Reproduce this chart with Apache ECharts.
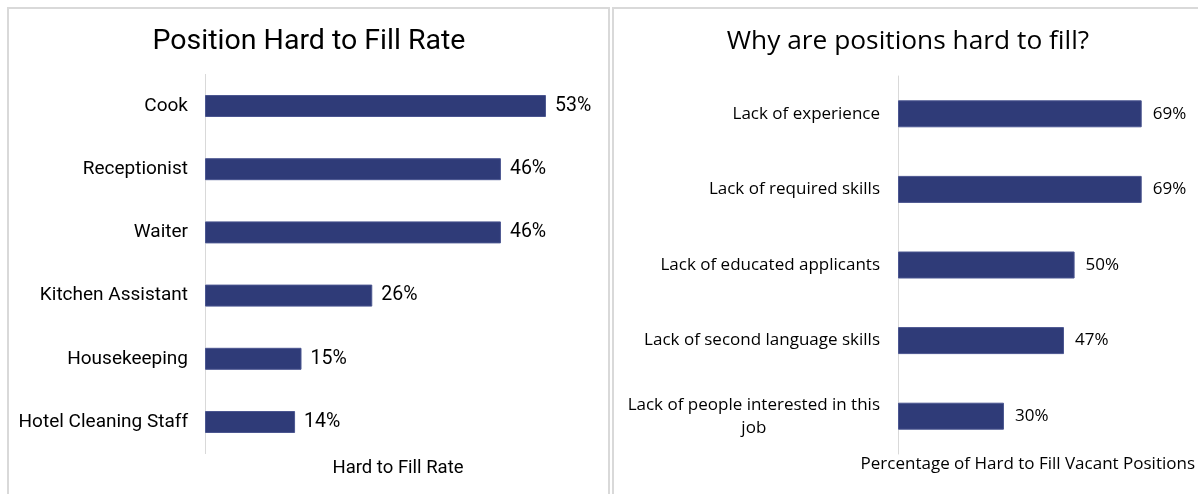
<!DOCTYPE html>
<html>
<head>
<meta charset="utf-8">
<script src="https://cdn.jsdelivr.net/npm/echarts@6/dist/echarts.min.js"></script>
<style>
  html, body { margin: 0; padding: 0; background: #ffffff; }
  #chart { width: 1198px; height: 494px; }
</style>
</head>
<body>
<div id="chart"></div>
<script>
// Left chart: share of positions reported hard to fill
const positionNames = ['Cook', 'Receptionist', 'Waiter', 'Kitchen Assistant', 'Housekeeping', 'Hotel Cleaning Staff'];
const positionRates = [53, 46, 46, 26, 15, 14];

// Right chart: reasons given for hard-to-fill vacancies
const reasonNames = ['Lack of experience', 'Lack of required skills', 'Lack of educated applicants', 'Lack of second language skills', 'Lack of people interested in this\njob'];
const reasonShares = [69, 69, 50, 47, 30];

const leftTitle = 'Position Hard to Fill Rate';
const rightTitle = 'Why are positions hard to fill?';
const leftAxisTitle = 'Hard to Fill Rate';
const rightAxisTitle = 'Percentage of Hard to Fill Vacant Positions';

const BAR = '#2f3b78';
const LEFT_FONT = 'Roboto';
const RIGHT_FONT = '"Open Sans"';

const chart = echarts.init(document.getElementById('chart'), null, { renderer: 'canvas' });

// category label: every line centred inside the label block, block right-aligned at the axis
function centredLines(v) {
  return v.split('\n').map(s => '{c|' + s + '}').join('\n');
}

chart.setOption({
  animation: false,
  graphic: [
    { type: 'rect', shape: { x: 8, y: 8, width: 601, height: 500 }, style: { fill: 'none', stroke: '#d9d9d9', lineWidth: 2 } },
    { type: 'rect', shape: { x: 613, y: 8, width: 600, height: 500 }, style: { fill: 'none', stroke: '#d9d9d9', lineWidth: 2 } }
  ],
  title: [
    { text: leftTitle, left: 304, top: 22, textAlign: 'center',
      textStyle: { fontFamily: LEFT_FONT, fontWeight: 'normal', fontSize: 28.5, color: '#000' } },
    { text: rightTitle, left: 903, top: 24, textAlign: 'center',
      textStyle: { fontFamily: RIGHT_FONT, fontWeight: 'normal', fontSize: 26.3, color: '#000' } }
  ],
  grid: [
    { left: 205, top: 74.4, width: 386, height: 379.2, containLabel: false },
    { left: 898, top: 76, width: 283, height: 378, containLabel: false }
  ],
  xAxis: [
    { type: 'value', gridIndex: 0, min: 0, max: 60,
      axisLine: { show: false }, axisTick: { show: false }, axisLabel: { show: false }, splitLine: { show: false },
      name: leftAxisTitle, nameLocation: 'middle', nameGap: 5,
      nameTextStyle: { fontFamily: LEFT_FONT, fontSize: 18.5, color: '#000', verticalAlign: 'top' } },
    { type: 'value', gridIndex: 1, min: 0, max: 80,
      axisLine: { show: false }, axisTick: { show: false }, axisLabel: { show: false }, splitLine: { show: false },
      name: rightAxisTitle, nameLocation: 'middle', nameGap: 2,
      nameTextStyle: { fontFamily: RIGHT_FONT, fontSize: 17, color: '#000', verticalAlign: 'top', padding: [0, 23, 0, 0] } }
  ],
  yAxis: [
    { type: 'category', gridIndex: 0, data: positionNames, inverse: true,
      axisLine: { show: true, lineStyle: { color: '#d9d9d9', width: 1 } }, axisTick: { show: false },
      axisLabel: { margin: 17, fontFamily: LEFT_FONT, fontSize: 19, color: '#000' } },
    { type: 'category', gridIndex: 1, data: reasonNames, inverse: true,
      axisLine: { show: true, lineStyle: { color: '#d9d9d9', width: 1 } }, axisTick: { show: false },
      axisLabel: { margin: 18, fontFamily: RIGHT_FONT, fontSize: 17, color: '#000', lineHeight: 23,
        formatter: centredLines,
        rich: { c: { align: 'center', fontFamily: RIGHT_FONT, fontSize: 17, color: '#000', lineHeight: 23 } } } }
  ],
  series: [
    { type: 'bar', xAxisIndex: 0, yAxisIndex: 0, data: positionRates, barWidth: 22,
      itemStyle: { color: BAR, borderColor: '#4b5690', borderWidth: 1 },
      label: { show: true, position: 'right', distance: 9, formatter: '{c}%',
        fontFamily: LEFT_FONT, fontSize: 19.5, color: '#000' } },
    { type: 'bar', xAxisIndex: 1, yAxisIndex: 1, data: reasonShares, barWidth: 27,
      itemStyle: { color: BAR, borderColor: '#4b5690', borderWidth: 1 },
      label: { show: true, position: 'right', distance: 11, formatter: '{c}%',
        fontFamily: RIGHT_FONT, fontSize: 17, color: '#000' } }
  ]
});
</script>
</body>
</html>
